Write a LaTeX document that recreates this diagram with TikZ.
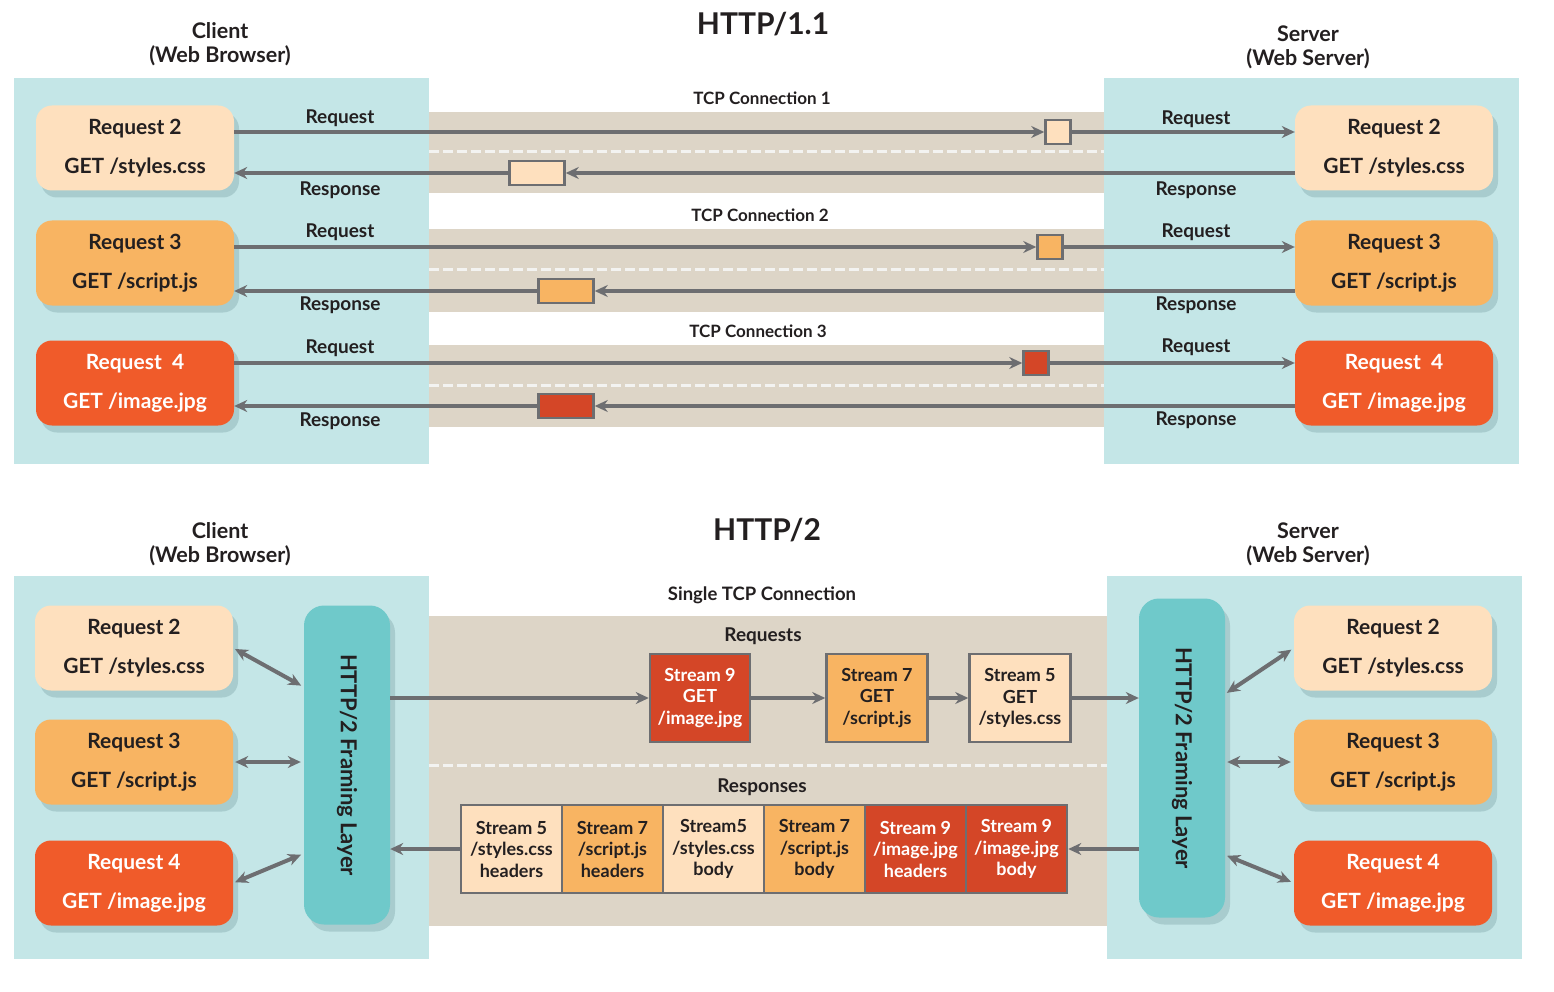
\documentclass[tikz,border=0pt]{standalone}
\usepackage{fontspec}
\setmainfont{Lato}
\usetikzlibrary{arrows.meta,shadows}

\definecolor{panel-color}{HTML}{C4E6E7}
\definecolor{band-color}{HTML}{DDD5C7}
\definecolor{gap-color}{HTML}{F3F3F1}
\definecolor{lite-color}{HTML}{FEE0BE}
\definecolor{mid-color}{HTML}{F8B462}
\definecolor{hot-color}{HTML}{F05B2A}
\definecolor{deep-color}{HTML}{D44627}
\definecolor{frame-color}{HTML}{6FC9CA}
\definecolor{line-color}{HTML}{6D6E71}
\definecolor{ink-color}{HTML}{231F20}
\definecolor{shade-color}{HTML}{7FA7AA}

\begin{document}
\begin{tikzpicture}[x=1pt,y=-1pt,
softshade/.style={drop shadow={shadow xshift=5pt, shadow yshift=-7pt, fill=shade-color, opacity=0.4}},
reqbox/.style={rectangle, rounded corners=16pt, minimum width=198pt, minimum height=85pt, align=center,
  font=\bfseries\fontsize{21}{24}\selectfont, softshade},
framebox/.style={rectangle, rounded corners=20pt, fill=frame-color, minimum width=86pt, minimum height=319pt,
  font=\bfseries\fontsize{22}{24}\selectfont, softshade},
pkt/.style={rectangle, draw=line-color, line width=2.5pt, minimum width=25pt, minimum height=24pt},
streambox/.style={rectangle, draw=line-color, line width=2.5pt, minimum width=101pt, minimum height=88pt,
  align=center, font=\bfseries\fontsize{18}{21.5}\selectfont, inner sep=1pt},
conn/.style={draw=line-color, line width=4pt, -{Stealth[length=13pt,width=12pt]}},
dbl/.style={draw=line-color, line width=4pt, {Stealth[length=13pt,width=12pt]}-{Stealth[length=13pt,width=12pt]}, shorten <=2pt, shorten >=3pt},
gapline/.style={draw=gap-color, line width=3pt, dash pattern=on 10pt off 4pt},
lbl/.style={font=\bfseries\fontsize{19}{22}\selectfont},
tcp/.style={font=\bfseries\fontsize{17}{20}\selectfont},
side/.style={align=center, font=\bfseries\fontsize{21.5}{24}\selectfont},
title/.style={font=\bfseries\fontsize{30}{34}\selectfont}]
\tikzstyle{every node}=[text=ink-color]
\useasboundingbox (0,0) rectangle (1554,992);

% HTTP/1.1
\fill[panel-color] (14,78) rectangle (429,464);
\fill[panel-color] (1104,78) rectangle (1519,464);
\fill[band-color] (429,112) rectangle (1104,193);
\fill[band-color] (429,229) rectangle (1104,312);
\fill[band-color] (429,345) rectangle (1104,427);
\draw[gapline] (429,152) -- (1104,152);
\draw[gapline] (429,269) -- (1104,269);
\draw[gapline] (429,385) -- (1104,385);

\node[title] (titleone) at (763,24) {HTTP/1.1};
\node[side] (clientone) at (220,44) {Client\\(Web Browser)};
\node[side] (serverone) at (1308,47) {Server\\(Web Server)};
\node[tcp] (tcpone) at (762,98) {TCP Connection 1};
\node[tcp] (tcptwo) at (760,215) {TCP Connection 2};
\node[tcp] (tcpthree) at (758,331) {TCP Connection 3};

\node[reqbox, fill=lite-color] (cA) at (135,148) {Request 2\\[15pt]GET /styles.css};
\node[reqbox, fill=mid-color] (cB) at (135,263) {Request 3\\[15pt]GET /script.js};
\node[reqbox, fill=hot-color, text=white] (cC) at (135,383) {Request\ \ 4\\[15pt]GET /image.jpg};
\node[reqbox, fill=lite-color] (sA) at (1394,148) {Request 2\\[15pt]GET /styles.css};
\node[reqbox, fill=mid-color] (sB) at (1394,263) {Request 3\\[15pt]GET /script.js};
\node[reqbox, fill=hot-color, text=white] (sC) at (1394,383) {Request\ \ 4\\[15pt]GET /image.jpg};

\node[pkt, fill=lite-color] (qA) at (1058,132) {};
\node[pkt, fill=lite-color, minimum width=55pt] (pA) at (537,173) {};
\node[pkt, fill=mid-color] (qB) at (1050,247) {};
\node[pkt, fill=mid-color, minimum width=55pt] (pB) at (566,291) {};
\node[pkt, fill=deep-color] (qC) at (1036,363) {};
\node[pkt, fill=deep-color, minimum width=55pt] (pC) at (566,406) {};

\draw[conn] (cA.east |- qA) -- (qA);
\draw[conn] (qA) -- (sA.west |- qA);
\draw[conn] (sA.west |- pA) -- (pA);
\draw[conn] (pA) -- (cA.east |- pA);
\draw[conn] (cB.east |- qB) -- (qB);
\draw[conn] (qB) -- (sB.west |- qB);
\draw[conn] (sB.west |- pB) -- (pB);
\draw[conn] (pB) -- (cB.east |- pB);
\draw[conn] (cC.east |- qC) -- (qC);
\draw[conn] (qC) -- (sC.west |- qC);
\draw[conn] (sC.west |- pC) -- (pC);
\draw[conn] (pC) -- (cC.east |- pC);

\node[lbl] (lqA) at (340,118) {Request};
\node[lbl] (lpA) at (340,190) {Response};
\node[lbl] (lqB) at (340,232) {Request};
\node[lbl] (lpB) at (340,305) {Response};
\node[lbl] (lqC) at (340,348) {Request};
\node[lbl] (lpC) at (340,421) {Response};
\node[lbl] (rqA) at (1196,119) {Request};
\node[lbl] (rpA) at (1196,190) {Response};
\node[lbl] (rqB) at (1196,232) {Request};
\node[lbl] (rpB) at (1196,305) {Response};
\node[lbl] (rqC) at (1196,347) {Request};
\node[lbl] (rpC) at (1196,420) {Response};

% HTTP/2
\fill[panel-color] (14,576) rectangle (429,959);
\fill[panel-color] (1107,576) rectangle (1522,959);
\fill[band-color] (429,616) rectangle (1107,926);
\draw[gapline] (429,765) -- (1107,765);

\node[title] (titletwo) at (767,530) {HTTP/2};
\node[side] (clienttwo) at (220,544) {Client\\(Web Browser)};
\node[side] (servertwo) at (1308,544) {Server\\(Web Server)};
\node[tcp, font=\bfseries\fontsize{18.5}{21}\selectfont] (single) at (762,595) {Single TCP Connection};
\node[lbl] (reqs) at (763,636) {Requests};
\node[lbl] (resps) at (762,787) {Responses};

\node[reqbox, fill=lite-color] (ctA) at (134,648) {Request 2\\[15pt]GET /styles.css};
\node[reqbox, fill=mid-color] (ctB) at (134,762) {Request 3\\[15pt]GET /script.js};
\node[reqbox, fill=hot-color, text=white] (ctC) at (134,883) {Request 4\\[15pt]GET /image.jpg};
\node[reqbox, fill=lite-color] (stA) at (1393,648) {Request 2\\[15pt]GET /styles.css};
\node[reqbox, fill=mid-color] (stB) at (1393,762) {Request 3\\[15pt]GET /script.js};
\node[reqbox, fill=hot-color, text=white] (stC) at (1393,883) {Request 4\\[15pt]GET /image.jpg};

\node[framebox] (flL) at (347,765) {\rotatebox{-90}{HTTP/2 Framing Layer}};
\node[framebox] (flR) at (1182,758) {\rotatebox{-90}{HTTP/2 Framing Layer}};

\draw[dbl] (ctA.east) -- (flL.119);
\draw[dbl] (ctB) -- (flL.west |- ctB);
\draw[dbl] (ctC.east) -- (flL.244);
\draw[dbl] (flR.56) -- (stA.west);
\draw[dbl] (flR.east |- stB) -- (stB);
\draw[dbl] (flR.294) -- (stC.west);

\node[streambox, fill=deep-color, text=white, minimum width=100pt] (sn) at (700,698) {Stream 9\\GET\\/image.jpg};
\node[streambox, fill=mid-color] (ss) at (877,698) {Stream 7\\GET\\/script.js};
\node[streambox, fill=lite-color] (sf) at (1020,698) {Stream 5\\GET\\/styles.css};

\draw[conn] (flL.east |- sn) -- (sn);
\draw[conn] (sn) -- (ss);
\draw[conn] (ss) -- (sf);
\draw[conn] (sf) -- (flR.west |- sf);

\node[streambox, fill=lite-color] (rA) at (511.5,849) {Stream 5\\/styles.css\\headers};
\node[streambox, fill=mid-color] (rB) at (612.5,849) {Stream 7\\/script.js\\headers};
\node[streambox, fill=lite-color] (rC) at (713.5,849) {Stream5\\/styles.css\\body};
\node[streambox, fill=mid-color] (rD) at (814.5,849) {Stream 7\\/script.js\\body};
\node[streambox, fill=deep-color, text=white] (rE) at (915.5,849) {Stream 9\\/image.jpg\\headers};
\node[streambox, fill=deep-color, text=white] (rF) at (1016.5,849) {Stream 9\\/image.jpg\\body};

\draw[conn] (flR.west |- rF) -- (rF);
\draw[conn] (rA) -- (flL.east |- rA);

\end{tikzpicture}
\end{document}
